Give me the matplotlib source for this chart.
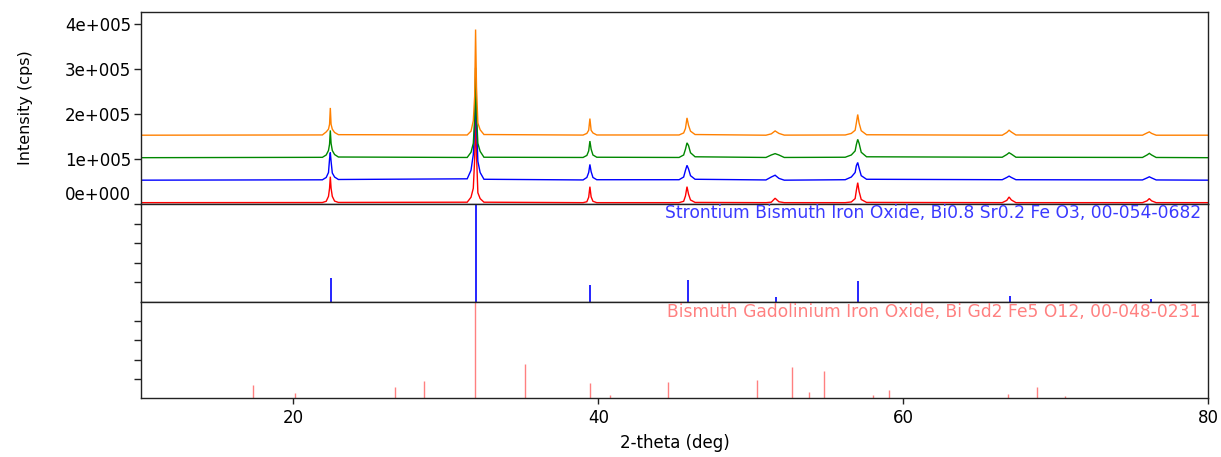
import matplotlib
matplotlib.use("Agg")
import matplotlib.pyplot as plt

# ---- measured patterns (2-theta in degrees, intensity in cps) ----
two_theta = [10.0,
             21.9, 22.15, 22.3, 22.37, 22.42, 22.47, 22.55, 22.7, 22.95,
             31.4, 31.65, 31.8, 31.89, 31.95, 32.01, 32.1, 32.25, 32.5,
             39.0, 39.25, 39.37, 39.45, 39.53, 39.65, 39.9,
             45.3, 45.6, 45.72, 45.82, 45.92, 46.05, 46.35,
             51.0, 51.35, 51.6, 51.85, 52.2,
             56.2, 56.6, 56.85, 56.93, 57.02, 57.11, 57.25, 57.6,
             66.5, 66.8, 66.95, 67.1, 67.4,
             75.7, 76.0, 76.15, 76.3, 76.6,
             80.0]

counts_red = [3000,
              3300, 6000, 17000, 35000, 60800, 35000, 17000, 6500, 3500,
              4000, 15000, 35000, 100000, 203000, 110000, 25000, 12000, 4000,
              3000, 5000, 15000, 38500, 16000, 6000, 3000,
              3000, 6000, 18000, 38500, 22000, 9000, 3500,
              3000, 4000, 12800, 5000, 3000,
              3000, 4500, 12000, 30000, 47400, 28000, 10000, 3500,
              3000, 8000, 15500, 9000, 3000,
              3000, 7000, 12000, 7000, 3000,
              3000]

counts_blue = [3000,
               3800, 9000, 20000, 50000, 64500, 45000, 19000, 10000, 4500,
               6000, 25000, 60000, 120000, 196000, 130000, 45000, 20000, 5000,
               3500, 9000, 20000, 38000, 22000, 9000, 4000,
               4000, 10000, 25000, 36000, 28000, 13000, 5000,
               3500, 10000, 14000, 7000, 3000,
               4000, 10000, 20000, 35000, 42300, 30000, 13000, 5000,
               4000, 9000, 12000, 9000, 4000,
               3500, 8000, 10500, 8000, 3500,
               3000]

counts_green = [3000,
                3800, 9000, 19000, 33000, 63700, 35000, 19000, 10000, 4500,
                3500, 15000, 35000, 90000, 203000, 100000, 35000, 17000, 4000,
                3500, 8000, 18000, 40000, 22000, 9000, 4000,
                3500, 9000, 22000, 36000, 30000, 14000, 5000,
                3500, 9000, 12000, 9000, 3500,
                4000, 9000, 18000, 32000, 43700, 35000, 15000, 5000,
                4000, 10000, 14000, 11000, 4000,
                3500, 9000, 12600, 9000, 3500,
                3000]

counts_orange = [3000,
                 3600, 10300, 16400, 27300, 63700, 27300, 16400, 9100, 4200,
                 3500, 12000, 35000, 90000, 238000, 110000, 30000, 15000, 4500,
                 3300, 7000, 14000, 40000, 14000, 8000, 3500,
                 3500, 8000, 18000, 41500, 25000, 12000, 4500,
                 3000, 6000, 12500, 7000, 3200,
                 3500, 7000, 14000, 30000, 49000, 30000, 13000, 4000,
                 3000, 9000, 14000, 10000, 3500,
                 3000, 8000, 10400, 7000, 3000,
                 3000]

# vertical display offsets of the stacked patterns
stack_offsets = [0, 50000, 100000, 150000]

# ---- reference cards (2-theta, relative intensity %) ----
ref1_name = "Strontium Bismuth Iron Oxide, Bi0.8 Sr0.2 Fe O3, 00-054-0682"
ref1_pos = [22.45, 31.97, 39.46, 45.86, 51.67, 57.07, 67.0, 76.25]
ref1_int = [24.5, 100, 17, 22, 5, 21, 6, 3]

ref2_name = "Bismuth Gadolinium Iron Oxide, Bi Gd2 Fe5 O12, 00-048-0231"
ref2_pos = [17.32, 20.08, 26.67, 28.56, 31.94, 35.16, 39.44, 40.8, 44.57,
            50.43, 52.74, 53.8, 54.83, 58.02, 59.06, 66.9, 68.8, 70.6]
ref2_int = [13.5, 5.7, 11.5, 17.7, 100, 35, 16, 3, 16.7,
            18.7, 32, 6, 27.8, 3, 8.3, 4, 11.5, 2]

y_ticks = [0, 100000, 200000, 300000, 400000]
y_tick_labels = ["0e+000", "1e+005", "2e+005", "3e+005", "4e+005"]
x_ticks = [20, 40, 60, 80]

# ---- figure ----
plt.rcParams["font.family"] = ["DejaVu Sans"]
W, H = 1221, 457
fig = plt.figure(figsize=(W / 100, H / 100), dpi=100)


def px_axes(x0, y0, x1, y1, **kw):
    return fig.add_axes([x0 / W, 1 - y1 / H, (x1 - x0) / W, (y1 - y0) / H], **kw)


ax_top = px_axes(141, 12, 1208, 204)
ax_mid = px_axes(141, 204, 1208, 302, sharex=ax_top)
ax_bot = px_axes(141, 302, 1208, 398, sharex=ax_top)

series = [(counts_red, "#ff0000"), (counts_blue, "#0000ff"),
          (counts_green, "#008800"), (counts_orange, "#ff8000")]
for (vals, col), off in zip(series, stack_offsets):
    ax_top.plot(two_theta, [v + off for v in vals], color=col, lw=1.0,
                solid_joinstyle="miter")

ax_top.set_xlim(10, 80)
ax_top.set_ylim(0, 427000)
ax_top.set_yticks(y_ticks)
ax_top.set_yticklabels(y_tick_labels)
ax_top.yaxis.get_major_ticks()[0].label1.set_verticalalignment("bottom")
ax_top.set_ylabel("Intensity (cps)", fontsize=11.5)
ax_top.yaxis.set_label_coords(-0.101, 0.5)

ax_mid.vlines(ref1_pos, 0, ref1_int, colors="#0000ff", lw=1.2)
ax_mid.set_ylim(0, 100)
ax_mid.text(0.9934, 0.905, ref1_name, transform=ax_mid.transAxes,
            ha="right", va="center", color="#3a3aff", fontsize=12.3)

ax_bot.vlines(ref2_pos, 0, ref2_int, colors="#ff8080", lw=1.0)
ax_bot.set_ylim(0, 100)
ax_bot.text(0.9934, 0.90, ref2_name, transform=ax_bot.transAxes,
            ha="right", va="center", color="#ff8080", fontsize=12.3)

for ax in (ax_mid, ax_bot):
    ax.set_yticks([20, 40, 60, 80])
    ax.set_yticklabels([])

for ax in (ax_top, ax_mid, ax_bot):
    for s in ax.spines.values():
        s.set_color("#222222")
        s.set_linewidth(1.0)
    ax.tick_params(axis="y", direction="out", length=5, width=1.0,
                   labelsize=12, pad=2, color="#222222")
    ax.tick_params(axis="x", direction="out", length=4, width=1.0,
                   labelsize=12, pad=4, color="#222222")

for ax in (ax_top, ax_mid):
    ax.tick_params(axis="x", bottom=False, labelbottom=False)

ax_bot.set_xticks(x_ticks)
ax_bot.set_xlabel("2-theta (deg)", fontsize=12, labelpad=5)

fig.savefig("out.png", dpi=100)
